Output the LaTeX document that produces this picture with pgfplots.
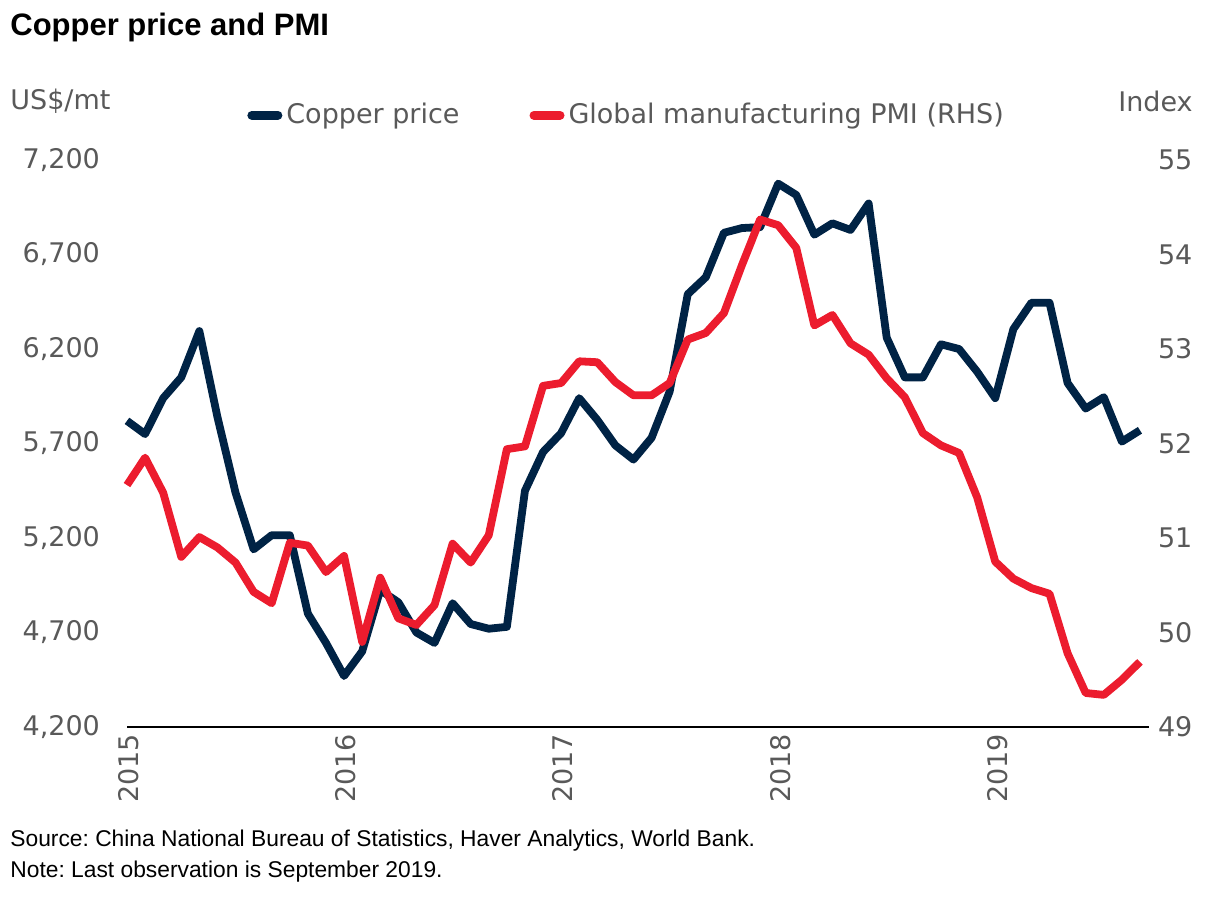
\documentclass[border=0pt]{standalone}
\usepackage{pgfplots}
\usepackage{pgfplotstable}
\pgfplotsset{compat=1.18}
\usepackage{fontspec}
\setmainfont{DejaVu Sans}
\newfontfamily\arial{Liberation Sans}
\definecolor{navy}{HTML}{002345}
\definecolor{pmired}{HTML}{EC1C2E}
\definecolor{txtgray}{HTML}{595959}
\frenchspacing

\pgfplotstableread{
i copper pmi
0 5820 51.56
1 5750 51.85
2 5940 51.48
3 6050 50.80
4 6295 51.01
5 5840 50.90
6 5440 50.74
7 5140 50.43
8 5215 50.31
9 5215 50.95
10 4800 50.92
11 4645 50.64
12 4470 50.81
13 4600 49.90
14 4925 50.58
15 4860 50.15
16 4700 50.08
17 4645 50.29
18 4855 50.94
19 4745 50.74
20 4720 51.03
21 4730 51.94
22 5450 51.97
23 5655 52.61
24 5755 52.64
25 5940 52.87
26 5825 52.86
27 5690 52.65
28 5615 52.51
29 5730 52.51
30 5975 52.64
31 6490 53.10
32 6580 53.17
33 6815 53.38
34 6840 53.89
35 6845 54.37
36 7075 54.31
37 7015 54.07
38 6805 53.25
39 6865 53.36
40 6830 53.06
41 6970 52.94
42 6260 52.69
43 6050 52.49
44 6050 52.11
45 6225 51.98
46 6200 51.90
47 6080 51.43
48 5940 50.75
49 6305 50.57
50 6445 50.47
51 6445 50.41
52 6020 49.78
53 5885 49.36
54 5945 49.34
55 5710 49.50
56 5770 49.69
}\datatable

\newcommand{\tickfont}{\fontsize{13.5}{16}\selectfont}

\begin{document}
\begin{tikzpicture}[x=0.5pt,y=-0.5pt]
\path[use as bounding box] (0,0) rectangle (1215,900);
\begin{axis}[
  at={(63.5pt,-363.5pt)}, anchor=south west,
  scale only axis, width=511pt, height=283.5pt,
  xmin=0, xmax=56.5, ymin=4200, ymax=7200,
  axis y line*=left, axis x line*=bottom,
  y axis line style={draw=none},
  x axis line style={black, line width=1pt},
  xtick={0,12,24,36,48}, xticklabels={2015,2016,2017,2018,2019},
  xticklabel style={rotate=90, anchor=east, font=\tickfont, text=txtgray, yshift=-1pt},
  ytick={4200,4700,5200,5700,6200,6700,7200},
  yticklabel style={font=\tickfont, text=txtgray, xshift=-10pt},
  /pgf/number format/1000 sep={,},
  /pgf/number format/assume math mode=true,
  major tick length=0pt, tick style={draw=none},
  clip=false,
  legend columns=2,
  legend style={at={(0.1174,1.079)}, anchor=west, draw=none, fill=none,
    font=\tickfont, text=txtgray, inner sep=0pt,
    /tikz/every even column/.append style={column sep=33pt}},
  legend image code/.code={\draw[#1, line width=4.5pt, line cap=round] (0pt,0pt) -- (13pt,0pt);},
]
\addplot[navy, line width=3.9pt, line join=round] table[x=i,y=copper]{\datatable};
\addlegendentry{Copper price}
\addlegendimage{pmired, line width=3.9pt}
\addlegendentry{Global manufacturing PMI (RHS)}
\end{axis}
\begin{axis}[
  at={(63.5pt,-363.5pt)}, anchor=south west,
  scale only axis, width=511pt, height=283.5pt,
  xmin=0, xmax=56.5, ymin=49, ymax=55,
  axis y line*=right, axis x line=none,
  y axis line style={draw=none},
  ytick={49,50,51,52,53,54,55},
  yticklabel style={font=\tickfont, text=txtgray, anchor=west, xshift=1pt},
  /pgf/number format/assume math mode=true,
  major tick length=0pt, tick style={draw=none},
  clip=false,
]
\addplot[pmired, line width=3.9pt, line join=round] table[x=i,y=pmi]{\datatable};
\end{axis}
\node[anchor=base west, inner sep=0pt, font=\arial\bfseries\fontsize{15.5}{18}\selectfont] at (10,35) {Copper price and PMI};
\node[anchor=west, inner sep=0pt, text=txtgray, font=\tickfont] at (10,101) {US\$/mt};
\node[anchor=east, inner sep=0pt, text=txtgray, font=\tickfont] at (1193,101) {Index};
\node[anchor=base west, inner sep=0pt, font=\arial\fontsize{11.4}{13}\selectfont] at (10,846) {Source: China National Bureau of Statistics, Haver Analytics, World Bank.};
\node[anchor=base west, inner sep=0pt, font=\arial\fontsize{11.4}{13}\selectfont] at (10,877) {Note: Last observation is September 2019.};
\end{tikzpicture}
\end{document}
